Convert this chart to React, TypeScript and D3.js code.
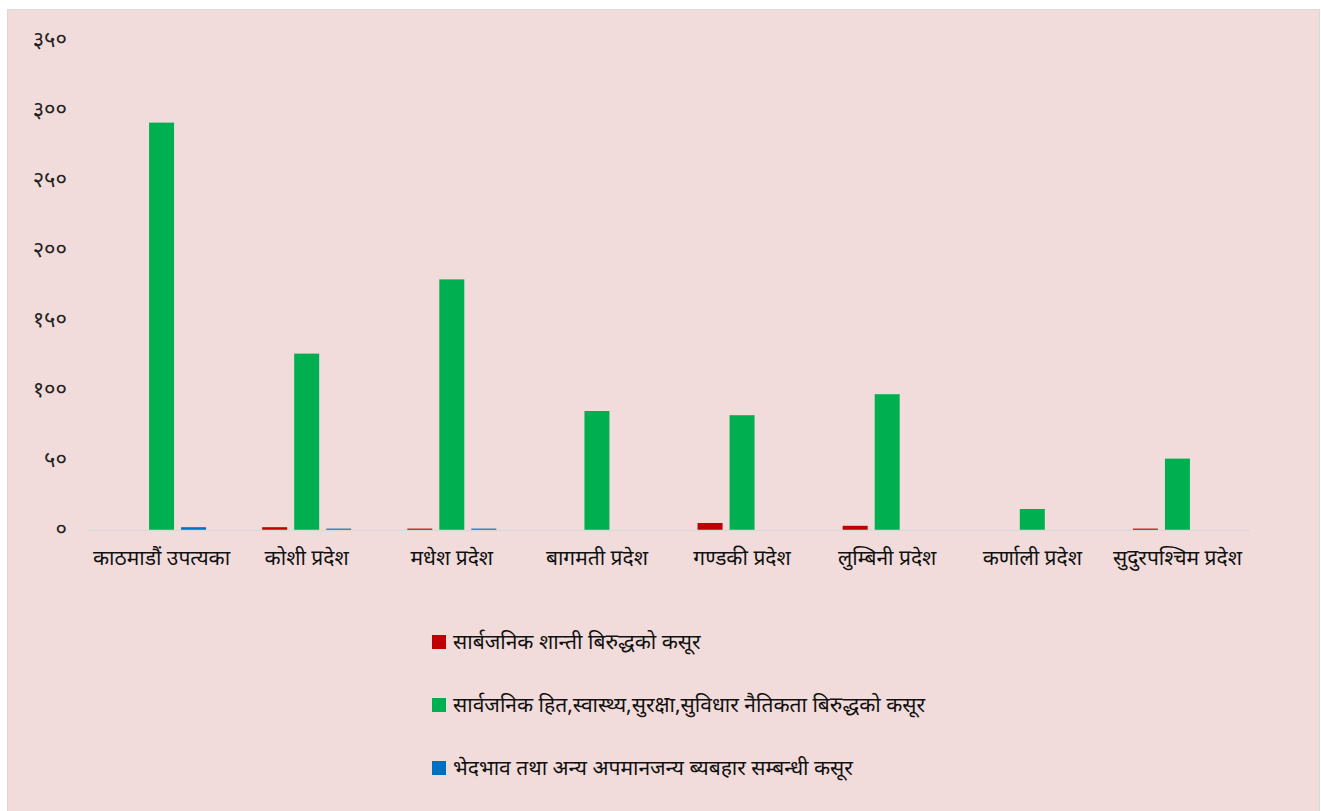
import { useEffect, useRef } from "react";
import * as d3 from "d3";

const categories = [
  "काठमाडौं उपत्यका",
  "कोशी प्रदेश",
  "मधेश प्रदेश",
  "बागमती प्रदेश",
  "गण्डकी प्रदेश",
  "लुम्बिनी प्रदेश",
  "कर्णाली प्रदेश",
  "सुदुरपश्चिम प्रदेश",
];

const seriesNames = [
  "सार्बजनिक शान्ती बिरुद्धको कसूर",
  "सार्वजनिक हित,स्वास्थ्य,सुरक्षा,सुविधार नैतिकता बिरुद्धको कसूर",
  "भेदभाव तथा अन्य अपमानजन्य ब्यबहार सम्बन्धी कसूर",
];

const publicPeace = [0, 2, 1, 0, 5, 3, 0, 1];
const publicInterest = [291, 126, 179, 85, 82, 97, 15, 51];
const discrimination = [2, 1, 1, 0, 0, 0, 0, 0];

const yTicks = [0, 50, 100, 150, 200, 250, 300, 350];
const colors = ["#c00000", "#00b050", "#0070c0"];

const W = 1321;
const H = 811;
const FONT = "'Noto Sans', sans-serif";

function toNepaliDigits(n: number) {
  const digits = "०१२३४५६७८९";
  return String(n).replace(/[0-9]/g, (c) => digits[+c]);
}

export default function App() {
  const svgRef = useRef<SVGSVGElement>(null);

  useEffect(() => {
    if (!svgRef.current) return;
    const svg = d3.select(svgRef.current);
    svg.selectAll("*").remove();

    // chart area background + border
    svg.append("rect")
      .attr("x", 7.5)
      .attr("y", 9.5)
      .attr("width", 1312)
      .attr("height", 820)
      .attr("fill", "#f2dcdb")
      .attr("stroke", "#d9d9d9")
      .attr("stroke-width", 1);

    const left = 89;
    const right = 1250;
    const y = d3.scaleLinear().domain([0, 350]).range([530, 40]);

    const x0 = d3.scaleBand<string>().domain(categories).range([left, right]).padding(0);
    const x1 = d3.scaleBand<number>()
      .domain([0, 1, 2])
      .range([0, x0.bandwidth()])
      .paddingInner(0.219)
      .paddingOuter(0.877);

    // y labels
    svg.append("g")
      .selectAll("text")
      .data(yTicks)
      .enter()
      .append("text")
      .attr("x", 67)
      .attr("y", (d) => y(d))
      .attr("dy", "0.3em")
      .attr("text-anchor", "end")
      .attr("font-family", FONT)
      .attr("font-size", 22)
      .attr("fill", "#222")
      .text((d) => toNepaliDigits(d));

    const series = [publicPeace, publicInterest, discrimination];

    // bars
    series.forEach((vals, si) => {
      svg.append("g")
        .selectAll("rect")
        .data(vals)
        .enter()
        .append("rect")
        .attr("x", (_, i) => (x0(categories[i]) || 0) + (x1(si) || 0))
        .attr("width", x1.bandwidth())
        .attr("y", (d) => y(d))
        .attr("height", (d) => y(0) - y(d))
        .attr("fill", colors[si]);
    });

    // x axis line
    svg.append("line")
      .attr("x1", left)
      .attr("x2", right)
      .attr("y1", y(0) + 0.5)
      .attr("y2", y(0) + 0.5)
      .attr("stroke", "#d9d9d9")
      .attr("stroke-width", 1.5);

    // category labels
    svg.append("g")
      .selectAll("text")
      .data(categories)
      .enter()
      .append("text")
      .attr("x", (d) => (x0(d) || 0) + x0.bandwidth() / 2)
      .attr("y", 558)
      .attr("dy", "0.35em")
      .attr("text-anchor", "middle")
      .attr("font-family", FONT)
      .attr("font-size", 21)
      .attr("fill", "#111")
      .text((d) => d);

    // legend
    const lg = svg.append("g");
    seriesNames.forEach((name, i) => {
      const cy = 642 + i * 63;
      lg.append("rect")
        .attr("x", 432)
        .attr("y", cy - 7)
        .attr("width", 14)
        .attr("height", 14)
        .attr("fill", colors[i]);
      lg.append("text")
        .attr("x", 453)
        .attr("y", cy)
        .attr("dy", "0.35em")
        .attr("font-family", FONT)
        .attr("font-size", 21)
        .attr("fill", "#111")
        .text(name);
    });
  }, []);

  return (
    <svg
      ref={svgRef}
      width={W}
      height={H}
      style={{ position: "absolute", left: 0, top: 0, background: "#ffffff" }}
    />
  );
}
